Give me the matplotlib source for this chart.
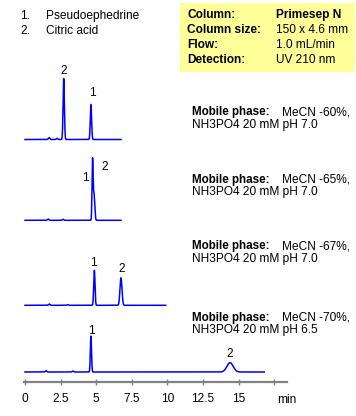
import numpy as np
import matplotlib
matplotlib.use("Agg")
import matplotlib.pyplot as plt
from matplotlib.patches import Rectangle

plt.rcParams['font.family'] = ['Liberation Sans', 'DejaVu Sans']

# --- data (time in min, height in detector units) ---
compounds = ["Pseudoephedrine", "Citric acid"]

info_keys = ["Column:", "Column size:", "Flow:", "Detection:"]
info_values = ["Primesep N", "150 x 4.6 mm", "1.0 mL/min", "UV 210 nm"]

mecn = ["MeCN -60%,", "MeCN -65%,", "MeCN -67%,", "MeCN -70%,"]
buffer = ["NH3PO4 20 mM pH 7.0", "NH3PO4 20 mM pH 7.0",
          "NH3PO4 20 mM pH 7.0", "NH3PO4 20 mM pH 6.5"]

run_end = [6.74, 6.74, 9.88, 16.8]

peak_ids = [["2", "1"], ["1", "2"], ["1", "2"], ["1", "2"]]
peak_rt = [[2.72, 4.63], [4.74, 4.84], [4.87, 6.74], [4.63, 14.4]]
peak_h = [[61, 35], [57, 27], [35, 27.5], [36, 9.3]]
peak_sd = [[0.045, 0.045], [0.035, 0.055], [0.045, 0.07], [0.04, 0.22]]

# small baseline bumps
bump_rt = [[1.69, 2.25], [1.62, 2.67], [1.70, 3.0], [1.47, 3.37]]
bump_h = [[1.8, 1.2], [1.2, 1.0], [1.3, 0.6], [1.3, 1.0]]

xticks = [0, 2.5, 5, 7.5, 10, 12.5, 15, 17.5]
xtick_labels = ["0", "2.5", "5", "7.5", "10", "12.5", "15", ""]

# --- layout (pixels of a 356x416 image) ---
W, H = 356, 416
x0_px, px_per_min = 25, 14.24
left_px, right_px = 20, 300
baselines = [139.5, 220.3, 305.3, 372]
text_y = [112.5, 179.5, 246.5, 317.5]
fs = 8.6


def fx(px):
    return px / W


def fy(py):
    return 1 - py / H


fig = plt.figure(figsize=(W / 100, H / 100), dpi=100)
xlim = ((left_px - x0_px) / px_per_min, (right_px - x0_px) / px_per_min)

# label positions near each peak (min, px above baseline)
label_pos = [[(2.72, 68.5), (4.72, 46.5)],
             [(4.26, 42), (5.6, 53)],
             [(4.82, 42), (6.77, 36)],
             [(4.68, 41.5), (14.4, 18)]]

for i in range(4):
    b = baselines[i]
    if i < 3:
        top, bot = b - 75, b + 6
    else:
        top, bot = b - 55, 381.5
    ax = fig.add_axes([fx(left_px), fy(bot), (right_px - left_px) / W, (bot - top) / H])
    ax.set_xlim(*xlim)
    ax.set_ylim(-(bot - b), b - top)
    ax.patch.set_alpha(0)

    t = np.linspace(0, run_end[i], 3000)
    y = np.zeros_like(t)
    for rt, h, sd in zip(peak_rt[i], peak_h[i], peak_sd[i]):
        y += h * np.exp(-0.5 * ((t - rt) / sd) ** 2)
    for rt, h in zip(bump_rt[i], bump_h[i]):
        y += h * np.exp(-0.5 * ((t - rt) / 0.05) ** 2)
    ax.plot(t, y, color="#0000ff", lw=1.1, solid_joinstyle="round")

    for lab, (lx, ly) in zip(peak_ids[i], label_pos[i]):
        ax.text(lx, ly, lab, ha="center", va="center", fontsize=fs, color="black")

    for s in ["top", "right", "left"]:
        ax.spines[s].set_visible(False)
    ax.set_yticks([])
    if i < 3:
        ax.spines["bottom"].set_visible(False)
        ax.set_xticks([])
    else:
        ax.spines["bottom"].set_color("#808080")
        ax.spines["bottom"].set_linewidth(1.6)
        ax.spines["bottom"].set_bounds(-0.05, 18.4)
        ax.set_xticks(xticks)
        ax.set_xticklabels(xtick_labels)
        ax.tick_params(axis="x", direction="inout", length=5, width=1,
                       color="#808080", labelsize=fs, pad=5.5)
        ax.annotate("min", xy=(18.4, 0), xycoords=("data", "axes fraction"),
                    xytext=(0, -9), textcoords="offset points",
                    ha="center", va="top", fontsize=fs)

    fig.text(fx(192), fy(text_y[i]), "Mobile phase:", fontsize=fs - 0.2,
             fontweight="bold", va="center")
    fig.text(fx(282), fy(text_y[i]), mecn[i], fontsize=fs, va="center")
    fig.text(fx(192), fy(text_y[i] + 12.5), buffer[i], fontsize=fs, va="center")

# compound legend
for k, name in enumerate(compounds):
    yy = 16 + 15 * k
    fig.text(fx(20), fy(yy), f"{k + 1}.", fontsize=fs, va="center")
    fig.text(fx(46), fy(yy), name, fontsize=fs, va="center")

# conditions box
fig.patches.append(Rectangle((fx(180), fy(72)), (355 - 180) / W, (72 - 3) / H,
                             transform=fig.transFigure, facecolor="#ffff99",
                             edgecolor="none", zorder=0))
for k, (key, val) in enumerate(zip(info_keys, info_values)):
    yy = 15 + 15 * k
    fig.text(fx(187), fy(yy), key, fontsize=fs, fontweight="bold", va="center")
    fig.text(fx(276), fy(yy), val, fontsize=fs, va="center",
             fontweight="bold" if k == 0 else "normal")

fig.savefig("out.png", dpi=100)
